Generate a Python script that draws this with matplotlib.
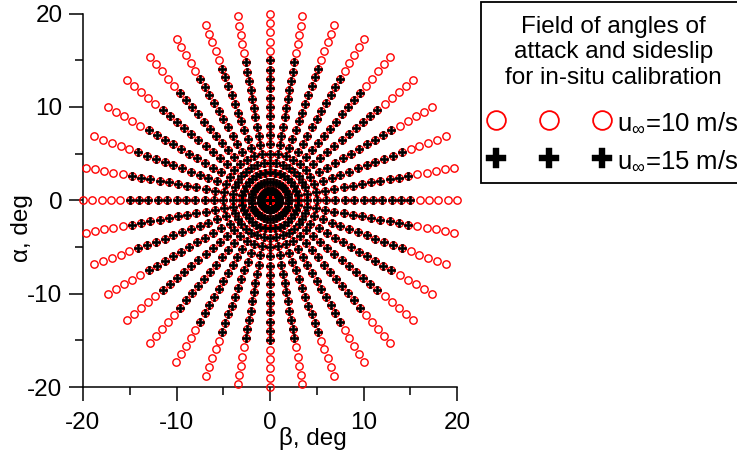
import numpy as np
import matplotlib
matplotlib.use('Agg')
import matplotlib.pyplot as plt
from matplotlib.lines import Line2D
from matplotlib.patches import Rectangle
from matplotlib.ticker import MultipleLocator

plt.rcParams['font.family'] = ['Liberation Sans', 'DejaVu Sans']
plt.rcParams['mathtext.fontset'] = 'custom'
plt.rcParams['mathtext.rm'] = 'Liberation Sans'
plt.rcParams['mathtext.it'] = 'Liberation Sans:italic'
plt.rcParams['axes.unicode_minus'] = False
plt.rcParams['font.size'] = 17.5

# calibration field: rays (direction in the beta-alpha plane) and radii, deg
ray_angles = [0, 10, 20, 30, 40, 50, 60, 70, 80, 90, 100, 110, 120, 130, 140, 150, 160, 170,
              180, 190, 200, 210, 220, 230, 240, 250, 260, 270, 280, 290, 300, 310, 320, 330, 340, 350]
radii_10 = [0, 1, 2, 3, 4, 5, 6, 7, 8, 9, 10, 11, 12, 13, 14, 15, 16, 17, 18, 19, 20]
radii_15 = [0, 1, 2, 3, 4, 5, 6, 7, 8, 9, 10, 11, 12, 13, 14, 15]

xticks = [-20, -10, 0, 10, 20]
yticks = [-20, -10, 0, 10, 20]


def field(angles, radii):
    th, r = np.meshgrid(np.radians(angles), np.array(radii, dtype=float))
    beta = (r * np.cos(th)).ravel()
    alpha = (r * np.sin(th)).ravel()
    return beta, alpha


b10, a10 = field(ray_angles, radii_10)
b15, a15 = field(ray_angles, radii_15)

fig = plt.figure(figsize=(7.37, 4.59), dpi=100)
ax = fig.add_axes([83/737, 1 - 387/459, 374/737, 373.5/459])

ax.plot(b10, a10, 'o', ls='none', ms=5.3, mfc='none', mec='red', mew=1.0, clip_on=False, zorder=3)
ax.plot(b15, a15, 'P', ls='none', ms=5.8, mfc='black', mec='black', mew=0.5, clip_on=False, zorder=4)

ax.set_xlim(-20, 20)
ax.set_ylim(-20, 20)
ax.set_xticks(xticks)
ax.set_yticks(yticks)
ax.xaxis.set_minor_locator(MultipleLocator(5))
ax.yaxis.set_minor_locator(MultipleLocator(5))
ax.tick_params(which='major', direction='out', length=10.3, width=1.1, labelsize=17.5)
ax.tick_params(which='minor', direction='out', length=6, width=1.1)
ax.tick_params(axis='x', which='major', pad=8)
ax.tick_params(axis='y', which='major', pad=4.5)
for s in ['top', 'right']:
    ax.spines[s].set_visible(False)
for s in ['left', 'bottom']:
    ax.spines[s].set_linewidth(1.1)

ax.set_xlabel('β, deg', fontsize=17.5)
ax.set_ylabel('α, deg', fontsize=17.5)
ax.xaxis.set_label_coords(230/374, -40/373.5)
ax.yaxis.set_label_coords(-50/374, 0.425)

# legend frame drawn separately (it runs past the right edge of the figure)
fig.add_artist(Rectangle((481/737, 1 - 183/459), 270/737, 181/459, transform=fig.transFigure,
                         fill=True, fc='white', ec='black', lw=1.3, zorder=5))

h10 = Line2D([], [], ls='none', marker='o', ms=13.5, mfc='none', mec='red', mew=1.3)
h15 = Line2D([], [], ls='none', marker='P', ms=15, mfc='black', mec='black', mew=0.3)
leg = fig.legend([h10, h15], [r'u$_\infty$=10 m/s', r'u$_\infty$=15 m/s'],
                 loc='upper left', bbox_to_anchor=(488/737, 1 - 16/459),
                 bbox_transform=fig.transFigure, borderaxespad=0,
                 title='Field of angles of\nattack and sideslip\nfor in-situ calibration',
                 title_fontsize=17.5, fontsize=18.5, numpoints=3, handlelength=4.73,
                 handletextpad=0.28, labelspacing=0.55, borderpad=0,
                 frameon=False)
leg.set_zorder(6)
leg.get_title().set_multialignment('center')
# a bit more room between the title and the entries
leg._legend_box.sep = 15.5

fig.savefig('out.png', dpi=100)
